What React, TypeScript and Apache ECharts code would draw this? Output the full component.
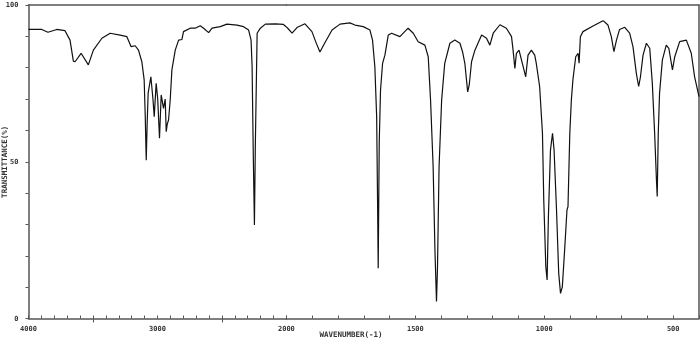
import React, { useEffect, useRef } from 'react';
import * as echarts from 'echarts';

// IR spectrum: wavenumber (cm-1) and transmittance (%)
const wavenumbers = [
  4000, 3897, 3849, 3781, 3717, 3678, 3652, 3639, 3592, 3536, 3497, 3431, 3367, 3289, 3237, 3204,
  3173, 3147, 3121, 3103, 3095, 3087, 3080, 3072, 3051, 3035, 3025, 3010, 2998, 2984, 2971, 2953,
  2940, 2932, 2924, 2914, 2901, 2888, 2862, 2836, 2810, 2798, 2746, 2707, 2668, 2642, 2603, 2577,
  2513, 2461, 2383, 2332, 2293, 2274, 2266, 2256, 2248, 2241, 2227, 2202, 2163, 2085, 2023, 2000,
  1994, 1978, 1959, 1928, 1901, 1885, 1870, 1847, 1823, 1792, 1754, 1734, 1702, 1676, 1666, 1657,
  1650, 1646, 1644, 1640, 1635, 1627, 1618, 1605, 1592, 1560, 1528, 1508, 1489, 1463, 1450, 1441,
  1431, 1424, 1418, 1414, 1408, 1398, 1386, 1366, 1347, 1327, 1317, 1308, 1297, 1291, 1282, 1269,
  1243, 1224, 1211, 1198, 1172, 1147, 1127, 1121, 1114, 1108, 1098, 1085, 1072, 1063, 1050, 1037,
  1031, 1018, 1007, 1002, 994, 989, 984, 976, 968, 962, 953, 944, 937, 930, 921, 912,
  908, 901, 895, 889, 878, 869, 865, 860, 850, 811, 772, 753, 740, 730, 720, 708,
  688, 669, 656, 643, 634, 627, 617, 604, 591, 581, 572, 565, 562, 558, 553, 542,
  527, 517, 503, 494, 475, 449, 430, 417, 400,
];
const transmittance = [
  92.2, 92.2, 91.3, 92.2, 91.8, 88.8, 82.1, 81.9, 84.6, 80.9, 85.6, 89.4, 91.0, 90.4, 89.9, 86.7,
  87.0, 85.6, 81.9, 76.1, 65.0, 50.5, 62.0, 72.0, 77.1, 70.0, 64.4, 75.0, 70.0, 57.5, 71.3, 67.0,
  70.0, 59.6, 62.0, 63.3, 69.7, 79.3, 85.6, 88.8, 89.0, 91.5, 92.6, 92.6, 93.4, 92.6, 91.2, 92.6,
  93.1, 93.9, 93.6, 93.1, 92.0, 88.8, 80.3, 50.0, 29.8, 55.0, 91.0, 92.6, 93.9, 94.0, 93.8, 93.0,
  92.5, 91.0, 92.8, 94.0, 91.5, 88.0, 85.0, 88.5, 92.0, 93.9, 94.3, 93.6, 93.1, 92.0, 88.8, 80.3,
  64.4, 33.6, 16.0, 56.0, 72.9, 81.4, 84.0, 90.4, 91.0, 89.9, 92.6, 91.0, 88.3, 87.2, 83.5, 69.7,
  48.4, 21.9, 5.4, 16.5, 48.4, 69.7, 81.4, 87.8, 88.8, 87.8, 85.1, 81.4, 72.3, 74.5, 81.9, 85.6,
  90.4, 89.4, 87.2, 91.0, 93.7, 92.6, 89.9, 85.6, 79.8, 84.6, 85.6, 81.4, 77.1, 84.0, 85.6, 84.0,
  81.4, 74.0, 59.0, 37.8, 16.5, 12.3, 32.5, 53.7, 59.1, 53.7, 35.7, 14.4, 8.0, 10.1, 21.9, 34.6,
  35.7, 59.1, 69.7, 76.1, 83.5, 84.6, 81.4, 89.9, 91.5, 93.3, 95.0, 93.6, 89.9, 85.1, 88.8, 92.2,
  92.9, 91.0, 86.7, 78.2, 74.0, 77.1, 84.0, 87.8, 86.2, 75.0, 59.1, 44.2, 38.9, 59.1, 71.8, 82.5,
  87.2, 86.2, 79.3, 83.5, 88.3, 88.8, 84.6, 77.1, 70.8,
];

const xTickLabels = [4000, 3000, 2000, 1500, 1000, 500];
const xLongTicks = [3500, 2500];
const yTickLabels = [0, 50, 100];
const scaleBreak = 2000;
const xName = 'WAVENUMBER(-1)';
const yName = 'TRANSMITTANCE(%)';

const FONT = 'DejaVu Sans Mono';
const AXIS_COLOR = '#555';
const TEXT_COLOR = '#333';

export default function App() {
  const ref = useRef<HTMLDivElement>(null);
  useEffect(() => {
    if (!ref.current) return;
    const chart = echarts.init(ref.current, null, { renderer: 'svg' });
    const pts = wavenumbers.map((w, i) => [w, transmittance[i]]);
    const upper = pts.filter((p) => p[0] >= scaleBreak);
    const lower = pts.filter((p) => p[0] <= scaleBreak);

    const lineAxis = { show: true, lineStyle: { color: AXIS_COLOR, width: 1.5 } };
    const labelStyle = { fontSize: 7, fontFamily: FONT, color: TEXT_COLOR, fontWeight: 'bold' as const };

    chart.setOption({
      animation: false,
      grid: [
        { left: 28.5, width: 257.9, top: 5, bottom: 27.5, containLabel: false, outerBoundsMode: 'none' },
        { left: 286.4, right: 1, top: 5, bottom: 27.5, containLabel: false, outerBoundsMode: 'none' },
      ],
      xAxis: [
        {
          gridIndex: 0, type: 'value', min: scaleBreak, max: 4000, inverse: true, interval: 100,
          position: 'bottom', axisLine: lineAxis,
          axisTick: { show: true, inside: true, length: 3, lineStyle: { color: AXIS_COLOR, width: 1 } },
          axisLabel: {
            ...labelStyle, margin: 7, showMinLabel: true, showMaxLabel: true,
            formatter: (v: number) => (xTickLabels.includes(v) && v !== scaleBreak ? String(v) : ''),
          },
          splitLine: { show: false },
        },
        {
          gridIndex: 0, type: 'value', min: scaleBreak, max: 4000, inverse: true,
          position: 'top', axisLine: lineAxis, axisTick: { show: false }, axisLabel: { show: false },
          splitLine: { show: false },
        },
        {
          gridIndex: 0, type: 'value', min: scaleBreak, max: 4000, inverse: true,
          position: 'bottom', axisLine: { show: false },
          axisTick: { show: true, customValues: xLongTicks, length: 4, lineStyle: { color: AXIS_COLOR, width: 1 } },
          axisLabel: { show: false }, splitLine: { show: false },
        },
        {
          gridIndex: 1, type: 'value', min: 400, max: scaleBreak, inverse: true, interval: 100,
          position: 'bottom', axisLine: lineAxis,
          axisTick: { show: true, inside: true, length: 3, lineStyle: { color: AXIS_COLOR, width: 1 } },
          axisLabel: {
            ...labelStyle, margin: 7, showMinLabel: true, showMaxLabel: true,
            formatter: (v: number) => (xTickLabels.includes(v) ? String(v) : ''),
          },
          splitLine: { show: false },
        },
        {
          gridIndex: 1, type: 'value', min: 400, max: scaleBreak, inverse: true,
          position: 'top', axisLine: lineAxis, axisTick: { show: false }, axisLabel: { show: false },
          splitLine: { show: false },
        },
      ],
      yAxis: [
        {
          gridIndex: 0, type: 'value', min: 0, max: 100, interval: 10, position: 'left',
          axisLine: lineAxis,
          axisTick: { show: true, inside: false, length: 3, lineStyle: { color: AXIS_COLOR, width: 1 } },
          axisLabel: {
            ...labelStyle, margin: 10,
            formatter: (v: number) => (yTickLabels.includes(v) ? String(v) : ''),
          },
          splitLine: { show: false },
          name: yName, nameLocation: 'middle', nameRotate: 90, nameGap: 20, nameMoveOverlap: false,
          nameTextStyle: { ...labelStyle, fontSize: 7.5 },
        },
        {
          gridIndex: 1, type: 'value', min: 0, max: 100, position: 'right',
          axisLine: lineAxis, axisTick: { show: false }, axisLabel: { show: false },
          splitLine: { show: false },
        },
      ],
      graphic: [
        {
          type: 'text', x: 351, y: 334,
          style: { text: xName, fontSize: 7.5, fontFamily: FONT, fontWeight: 'bold', fill: TEXT_COLOR, align: 'center', verticalAlign: 'middle' },
        },
      ],
      series: [
        {
          type: 'line', xAxisIndex: 0, yAxisIndex: 0, data: upper, showSymbol: false, symbol: 'none',
          lineStyle: { color: '#111', width: 1.2 }, silent: true,
        },
        {
          type: 'line', xAxisIndex: 3, yAxisIndex: 1, data: lower, showSymbol: false, symbol: 'none',
          lineStyle: { color: '#111', width: 1.2 }, silent: true,
        },
      ],
    });
    return () => chart.dispose();
  }, []);
  return <div ref={ref} style={{ position: 'fixed', left: 0, top: 0, width: 700, height: 346 }} />;
}
